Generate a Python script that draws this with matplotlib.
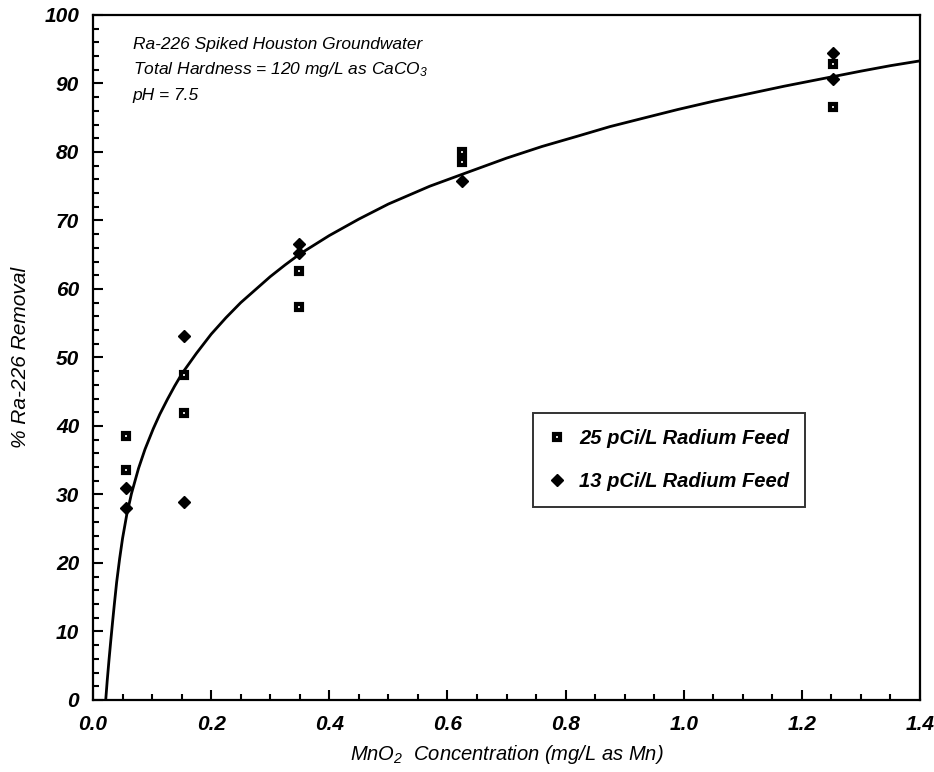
import numpy as np
import matplotlib
matplotlib.use("Agg")
import matplotlib.pyplot as plt
from matplotlib.ticker import MultipleLocator

# Ra-226 removal vs MnO2 dose
x_25 = [0.056, 0.056, 0.154, 0.154, 0.349, 0.349, 0.625, 0.625, 1.253, 1.253]
y_25 = [38.5, 33.5, 47.5, 41.9, 62.6, 57.3, 80.0, 78.5, 92.8, 86.5]

x_13 = [0.056, 0.056, 0.154, 0.154, 0.349, 0.349, 0.625, 1.253, 1.253]
y_13 = [30.9, 28.0, 53.1, 28.9, 66.5, 65.3, 75.7, 94.5, 90.7]

# fitted removal curve
curve_x = [0.0215, 0.024, 0.027, 0.030, 0.033, 0.036, 0.040, 0.045, 0.050, 0.057,
           0.065, 0.077, 0.088, 0.102, 0.113, 0.126, 0.138, 0.151, 0.175, 0.20,
           0.225, 0.25, 0.275, 0.30, 0.325, 0.35, 0.40, 0.45, 0.50, 0.57,
           0.63, 0.70, 0.76, 0.82, 0.875, 0.93, 0.99, 1.05, 1.11, 1.17,
           1.235, 1.30, 1.35, 1.40]
curve_y = [0.0, 2.8, 5.8, 8.6, 11.3, 13.9, 17.2, 20.6, 23.6, 27.0,
           30.1, 33.8, 36.6, 39.6, 41.7, 43.9, 45.8, 47.7, 50.6, 53.4,
           55.8, 58.0, 59.9, 61.8, 63.5, 65.1, 67.8, 70.2, 72.4, 75.0,
           76.9, 79.1, 80.8, 82.3, 83.7, 84.9, 86.2, 87.4, 88.5, 89.6,
           90.7, 91.8, 92.6, 93.3]

labels = ["25 pCi/L Radium Feed", "13 pCi/L Radium Feed"]
notes = ["Ra-226 Spiked Houston Groundwater",
         "Total Hardness = 120 mg/L as CaCO$_3$",
         "pH = 7.5"]

plt.rcParams['font.family'] = ['Liberation Sans', 'DejaVu Sans']
plt.rcParams['mathtext.fontset'] = 'custom'
plt.rcParams['mathtext.rm'] = 'Liberation Sans:italic'
plt.rcParams['mathtext.it'] = 'Liberation Sans:italic'

fig = plt.figure(figsize=(9.34, 7.72), dpi=100)
ax = fig.add_axes([0.0996, 0.0933, 0.8854, 0.8873])

ax.plot(curve_x, curve_y, color='black', lw=2.0, solid_capstyle='round',
        solid_joinstyle='round', zorder=2)
ax.plot(x_25, y_25, ls='none', marker='s', ms=5, mfc='white', mec='black',
        mew=3.0, label=labels[0], zorder=3)
ax.plot(x_13, y_13, ls='none', marker='D', ms=6, color='black',
        label=labels[1], zorder=3)

ax.set_xlim(0, 1.4)
ax.set_ylim(0, 100)
ax.xaxis.set_major_locator(MultipleLocator(0.2))
ax.xaxis.set_minor_locator(MultipleLocator(0.05))
ax.yaxis.set_major_locator(MultipleLocator(10))
ax.yaxis.set_minor_locator(MultipleLocator(2))
ax.tick_params(which='both', direction='in', top=False, right=False, width=1.5)
ax.tick_params(which='major', length=7, pad=11, labelsize=15)
ax.tick_params(axis='y', which='major', pad=10)
ax.tick_params(which='minor', length=4.5)
ax.xaxis.set_major_formatter(lambda v, p: f"{v:.1f}")
ax.yaxis.set_major_formatter(lambda v, p: f"{v:.0f}")
for lab in ax.get_xticklabels() + ax.get_yticklabels():
    lab.set_fontstyle('italic')
    lab.set_fontweight('bold')
for s in ax.spines.values():
    s.set_linewidth(1.6)

ax.set_xlabel("MnO$_2$  Concentration (mg/L as Mn)", fontsize=14.5, style='italic', labelpad=6)
ax.set_ylabel("% Ra-226 Removal", fontsize=15, style='italic', labelpad=10)

for i, t in enumerate(notes):
    ax.text(0.048, 0.957 - i * 0.037, t, transform=ax.transAxes, fontsize=12.5,
            style='italic', va='center', ha='left')

leg = ax.legend(loc='upper left', bbox_to_anchor=(0.532, 0.419), fontsize=14.5,
                frameon=True, fancybox=False, edgecolor='black', handlelength=0.8,
                handletextpad=0.7, borderpad=0.8, labelspacing=1.2,
                borderaxespad=0)
leg.get_frame().set_linewidth(1.4)
for t in leg.get_texts():
    t.set_fontstyle('italic')
    t.set_fontweight('bold')

fig.savefig("out.png", dpi=100)
